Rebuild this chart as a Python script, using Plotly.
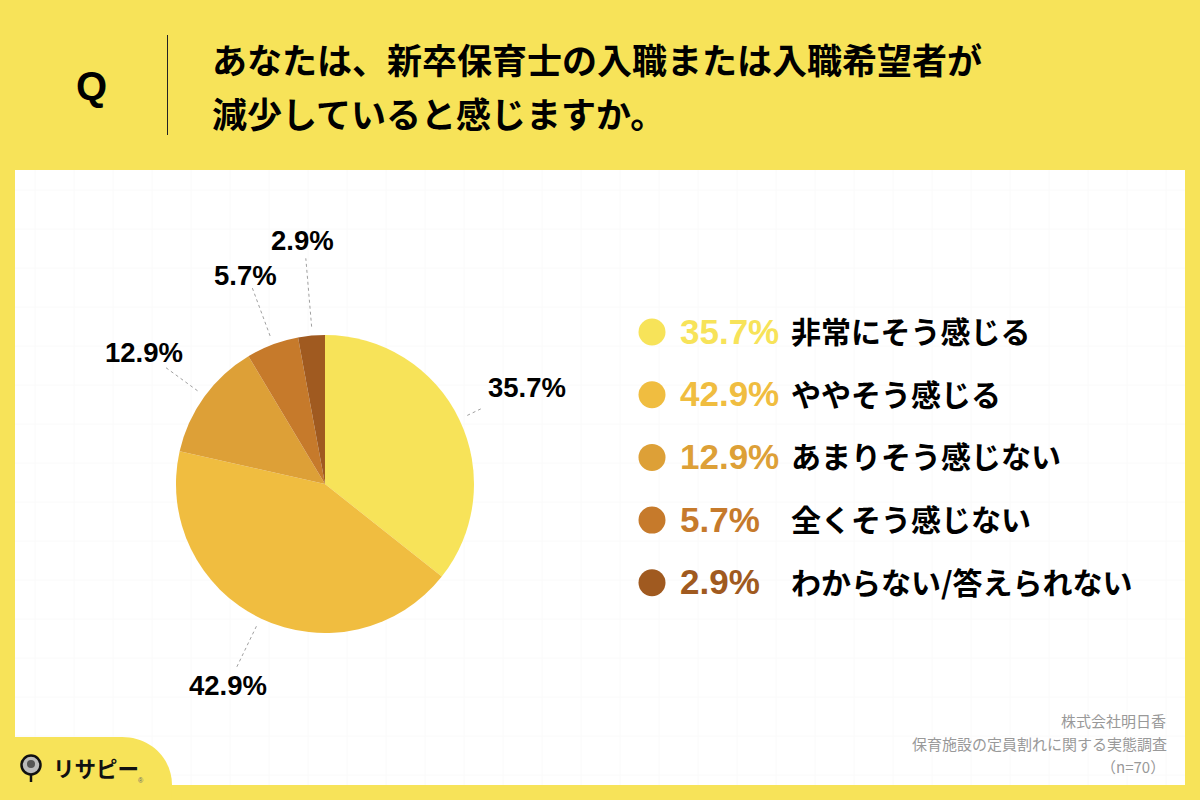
import math
import plotly.graph_objects as go

W = 1200
H = 800

title_lines = ['あなたは、新卒保育士の入職または入職希望者が', '減少していると感じますか。']
categories = ['非常にそう感じる', 'ややそう感じる', 'あまりそう感じない', '全くそう感じない', 'わからない/答えられない']
values = [35.7, 42.9, 12.9, 5.7, 2.9]
colors = ['#F7E359', '#F0BD40', '#DDA037', '#C67A2B', '#A05A20']
# how far each leader line reaches, as a multiple of the radius
leader_ends = [1.18, 1.37, 1.33, 1.41, 1.52]
footer_lines = ['株式会社明日香', '保育施設の定員割れに関する実態調査', '（n=70）']

YELLOW = '#F7E359'
JP = 'Noto Sans CJK JP'
NUM = 'Liberation Sans'
cx, cy, r = 325, 484, 149


def px(x):
    return x / W


def py(y):
    return 1 - y / H


def text(x, y, s, size, color='#000', family=JP, anchor='left'):
    return dict(x=px(x), y=py(y), xref='paper', yref='paper', text=s, showarrow=False,
                xanchor=anchor, yanchor='middle', align=anchor,
                font=dict(size=size, color=color, family=family))


def line(x0, y0, x1, y1, color, width=1, dash='solid'):
    return dict(type='line', xref='paper', yref='paper', x0=px(x0), y0=py(y0), x1=px(x1), y1=py(y1),
                line=dict(color=color, width=width, dash=dash), layer='below')


def circle(x, y, rad, color, border=None, width=0):
    return dict(type='circle', xref='paper', yref='paper', x0=px(x - rad), x1=px(x + rad),
                y0=py(y - rad), y1=py(y + rad), fillcolor=color,
                line=dict(color=border or color, width=width), layer='below')


shapes = []
annotations = []

# white panel with the faint grid
shapes.append(dict(type='rect', xref='paper', yref='paper', x0=px(15), x1=px(1185), y0=py(170), y1=py(785),
                   fillcolor='white', line=dict(width=0), layer='below'))
for gx in range(35, 1185, 39):
    shapes.append(line(gx, 170, gx, 785, '#FAFAFA'))
for gy in range(190, 785, 39):
    shapes.append(line(15, gy, 1185, gy, '#FAFAFA'))

# header
shapes.append(line(167.5, 35, 167.5, 135, '#222'))
annotations.append(text(91, 86, '<b>Q</b>', 40, family=NUM, anchor='center'))
annotations.append(text(210, 59, '<b>' + title_lines[0] + '</b>', 35))
annotations.append(text(210, 113, '<b>' + title_lines[1] + '</b>', 35))

# leader lines and pie labels
start = 0
for val, end in zip(values, leader_ends):
    mid = (start + val / 2) / 100 * 2 * math.pi
    sx, sy = math.sin(mid), -math.cos(mid)
    x0, y0 = cx + sx * r * 1.06, cy + sy * r * 1.06
    x1, y1 = cx + sx * r * end, cy + sy * r * end
    shapes.append(line(x0, y0, x1, y1, '#A0A0A0', 1, 'dot'))
    start += val

label_pos = [(527, 387), (228, 685), (144, 353), (246, 275), (302, 240)]
for val, (lx, ly) in zip(values, label_pos):
    annotations.append(text(lx, ly, '<b>%.1f%%</b>' % val, 27.5, family=NUM, anchor='center'))

# legend
for i, (cat, val, col) in enumerate(zip(categories, values, colors)):
    ly = 332 + i * 62.7
    shapes.append(circle(652, ly, 13.5, col))
    annotations.append(text(678, ly - 1, '<b>%.1f%%</b>' % val, 35, color=col, family=NUM))
    annotations.append(text(789, ly - 2, '<b>' + cat + '</b>', 30))

# footer
annotations.append(text(1168, 720, footer_lines[0], 15, color='#999', anchor='right'))
annotations.append(text(1169, 743, footer_lines[1], 15, color='#999', anchor='right'))
annotations.append(text(1167, 766, footer_lines[2], 15, color='#999', anchor='right'))

# logo tab
shapes.append(dict(type='path', xref='paper', yref='paper',
                   path='M 0 %f L %f %f C %f %f %f %f %f %f L %f 0 L 0 0 Z' % (
                       py(737), px(122), py(737), px(150), py(737),
                       px(172), py(758), px(172), py(785), px(172)),
                   fillcolor=YELLOW, line=dict(width=0), layer='below'))
shapes.append(circle(31, 765, 9.5, '#BBBBBB', '#111', 2.5))
shapes.append(line(31, 775, 31, 782, '#111', 2.5))
shapes.append(circle(31, 764, 4, '#555555'))
annotations.append(text(51, 767, '<b>リサピー</b>', 21.5, color='#111'))
annotations.append(text(141, 780, '®', 7, color='#666', family=NUM, anchor='center'))

fig = go.Figure(go.Pie(
    values=values,
    labels=categories,
    sort=False,
    direction='clockwise',
    rotation=0,
    marker=dict(colors=colors, line=dict(width=0)),
    textinfo='none',
    hoverinfo='label+percent',
    showlegend=False,
    domain=dict(x=[px(cx - r), px(cx + r)], y=[py(cy + r), py(cy - r)]),
))
fig.update_layout(
    width=W,
    height=H,
    margin=dict(l=0, r=0, t=0, b=0),
    paper_bgcolor=YELLOW,
    plot_bgcolor=YELLOW,
    shapes=shapes,
    annotations=annotations,
)
# drop the browser's default body margin so the figure fills the window
fig.write_html("out.html", config=dict(displayModeBar=False),
               post_script="document.body.style.margin='0';document.body.style.overflow='hidden';")
